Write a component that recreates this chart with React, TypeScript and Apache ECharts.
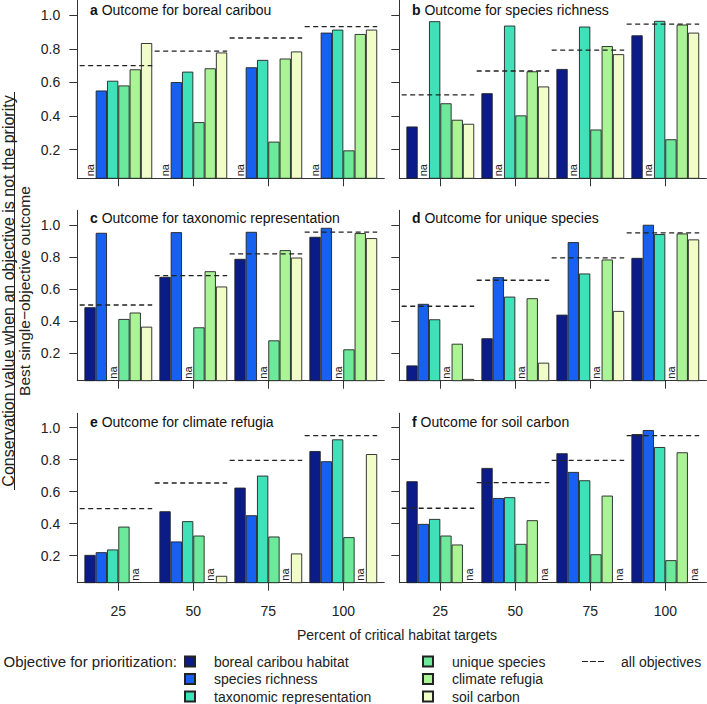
import React, { useEffect, useRef } from 'react';
import * as echarts from 'echarts';

// ---------- data ----------
const OBJECTIVES = [
  'boreal caribou habitat',
  'species richness',
  'taxonomic representation',
  'unique species',
  'climate refugia',
  'soil carbon',
];
const TARGETS = ['25', '50', '75', '100'];
const Y_TICKS = [0.2, 0.4, 0.6, 0.8, 1.0];

const PANEL_LETTERS = ['a', 'b', 'c', 'd', 'e', 'f'];
const PANEL_TITLES = [
  'Outcome for boreal caribou',
  'Outcome for species richness',
  'Outcome for taxonomic representation',
  'Outcome for unique species',
  'Outcome for climate refugia',
  'Outcome for soil carbon',
];

// rows = objective used for prioritization, columns = target (25, 50, 75, 100); null = na
const caribouOutcome = [
  [null, null, null, null],
  [0.552, 0.602, 0.69, 0.896],
  [0.61, 0.664, 0.734, 0.914],
  [0.582, 0.364, 0.248, 0.196],
  [0.678, 0.684, 0.742, 0.888],
  [0.834, 0.778, 0.784, 0.914],
];
const caribouAll = [0.7, 0.786, 0.864, 0.932];

const richnessOutcome = [
  [0.338, 0.536, 0.68, 0.88],
  [null, null, null, null],
  [0.964, 0.938, 0.932, 0.966],
  [0.476, 0.404, 0.32, 0.262],
  [0.378, 0.666, 0.816, 0.944],
  [0.354, 0.576, 0.768, 0.896],
];
const richnessAll = [0.526, 0.668, 0.792, 0.946];

const taxonomicOutcome = [
  [0.487, 0.676, 0.788, 0.925],
  [0.95, 0.954, 0.956, 0.981],
  [null, null, null, null],
  [0.414, 0.362, 0.281, 0.225],
  [0.454, 0.711, 0.842, 0.948],
  [0.366, 0.616, 0.796, 0.917],
];
const taxonomicAll = [0.501, 0.684, 0.819, 0.954];

const uniqueOutcome = [
  [0.125, 0.294, 0.441, 0.794],
  [0.508, 0.674, 0.892, 1.0],
  [0.412, 0.553, 0.697, 0.942],
  [null, null, null, null],
  [0.26, 0.543, 0.784, 0.946],
  [0.041, 0.142, 0.464, 0.909],
];
const uniqueAll = [0.493, 0.655, 0.794, 0.95];

const climateOutcome = [
  [0.204, 0.477, 0.625, 0.854],
  [0.221, 0.288, 0.452, 0.79],
  [0.238, 0.415, 0.7, 0.927],
  [0.381, 0.325, 0.319, 0.315],
  [null, null, null, null],
  [0.02, 0.073, 0.213, 0.835],
];
const climateAll = [0.494, 0.654, 0.796, 0.95];

const soilOutcome = [
  [0.665, 0.748, 0.84, 0.96],
  [0.398, 0.56, 0.723, 0.985],
  [0.429, 0.565, 0.671, 0.879],
  [0.325, 0.273, 0.208, 0.171],
  [0.269, 0.421, 0.575, 0.846],
  [null, null, null, null],
];
const soilAll = [0.496, 0.656, 0.796, 0.95];

const PANEL_VALUES = [caribouOutcome, richnessOutcome, taxonomicOutcome, uniqueOutcome, climateOutcome, soilOutcome];
const PANEL_ALL = [caribouAll, richnessAll, taxonomicAll, uniqueAll, climateAll, soilAll];

// ---------- styling ----------
const COLORS = ['#0B1C88', '#1761F0', '#3FE2B8', '#6DE99B', '#AAF396', '#F0FDC9'];
const FONT = "'Liberation Sans', Arial, Helvetica, sans-serif";
const INK = '#222';
const Y_MIN = 0.03;
const Y_MAX = 1.09;
const X_MIN = 0.4533;
const X_MAX = 4.5467;
const BAR_W = 11.3;
const DASH_FROM = -0.515;
const DASH_TO = 0.452;

const COL_LEFT = [77.3, 399.3];
const PANEL_W = 307;
const ROWS = [
  { top: 0, height: 178.3, titleTop: 3 },
  { top: 210.3, height: 170.4, titleTop: 211 },
  { top: 413.3, height: 169.4, titleTop: 414.5 },
];
const TITLE_LEFT = [90, 412];

function buildOption() {
  const grids: any[] = [];
  const xAxes: any[] = [];
  const yAxes: any[] = [];
  const titles: any[] = [];
  const series: any[] = [];

  for (let p = 0; p < 6; p++) {
    const col = p % 2;
    const row = Math.floor(p / 2);
    const bottomRow = row === 2;
    grids.push({
      left: COL_LEFT[col],
      top: ROWS[row].top,
      width: PANEL_W,
      height: ROWS[row].height,
      containLabel: false,
      outerBoundsMode: 'none',
    });
    xAxes.push({
      type: 'value',
      gridIndex: p,
      min: X_MIN,
      max: X_MAX,
      splitLine: { show: false },
      axisLine: { show: true, onZero: false, lineStyle: { color: '#333', width: 1 } },
      axisTick: {
        show: true,
        length: 8,
        customValues: TARGETS.map((_, i) => i + 1),
        lineStyle: { color: '#333', width: 1 },
      },
      axisLabel: {
        show: bottomRow,
        customValues: TARGETS.map((_, i) => i + 1),
        formatter: (v: number) => TARGETS[Math.round(v) - 1] ?? '',
        margin: 21,
        fontSize: 14,
        color: INK,
        fontFamily: FONT,
      },
    });
    yAxes.push({
      type: 'value',
      gridIndex: p,
      min: Y_MIN,
      max: Y_MAX,
      splitLine: { show: false },
      axisLine: { show: true, onZero: false, lineStyle: { color: '#333', width: 1 } },
      axisTick: { show: true, length: 8, customValues: Y_TICKS, lineStyle: { color: '#333', width: 1 } },
      axisLabel: {
        show: col === 0,
        customValues: Y_TICKS,
        formatter: (v: number) => v.toFixed(1),
        margin: 17,
        fontSize: 14,
        color: INK,
        fontFamily: FONT,
      },
    });
    titles.push({
      text: '{b|' + PANEL_LETTERS[p] + '}{n| ' + PANEL_TITLES[p] + '}',
      left: TITLE_LEFT[col],
      top: ROWS[row].titleTop,
      padding: 0,
      textStyle: {
        fontSize: 14,
        fontWeight: 'normal',
        color: '#111',
        fontFamily: FONT,
        rich: {
          b: { fontWeight: 'bold', fontSize: 14, color: '#111', fontFamily: FONT },
          n: { fontWeight: 'normal', fontSize: 14, color: '#111', fontFamily: FONT },
        },
      },
    });

    const values = PANEL_VALUES[p];
    OBJECTIVES.forEach((name, j) => {
      series.push({
        type: 'bar',
        name,
        xAxisIndex: p,
        yAxisIndex: p,
        barWidth: BAR_W,
        barGap: '0%',
        itemStyle: { color: COLORS[j], borderColor: INK, borderWidth: 0.9 },
        emphasis: { disabled: true },
        z: 2,
        data: values[j].map((v, i) =>
          v == null
            ? {
                value: [i + 1, Y_MIN + 0.12],
                itemStyle: { color: 'rgba(0,0,0,0)', borderWidth: 0 },
                label: {
                  show: true,
                  formatter: 'na',
                  position: 'insideBottom',
                  rotate: 90,
                  align: 'left',
                  verticalAlign: 'middle',
                  distance: 2,
                  fontSize: 11,
                  color: INK,
                  fontFamily: FONT,
                },
              }
            : [i + 1, v]
        ),
      });
    });

    const allVals = PANEL_ALL[p];
    const dashData: any[] = [];
    allVals.forEach((v, i) => {
      dashData.push([i + 1 + DASH_FROM, v]);
      dashData.push([i + 1 + DASH_TO, v]);
      dashData.push([i + 1 + DASH_TO, null]);
    });
    series.push({
      type: 'line',
      name: 'all objectives',
      xAxisIndex: p,
      yAxisIndex: p,
      data: dashData,
      symbol: 'none',
      connectNulls: false,
      silent: true,
      z: 5,
      itemStyle: { color: INK },
      lineStyle: { color: INK, width: 1.3, type: [5, 3.5] },
    });
  }

  const legendBase = {
    orient: 'vertical',
    top: 654.5,
    padding: 0,
    itemWidth: 10,
    itemHeight: 10,
    itemGap: 3.5,
    selectedMode: false,
    textStyle: { fontSize: 14, color: INK, fontFamily: FONT, padding: [0, 0, 0, 14] },
  };

  return {
    animation: false,
    textStyle: { fontFamily: FONT },
    title: titles,
    grid: grids,
    xAxis: xAxes,
    yAxis: yAxes,
    series,
    legend: [
      { ...legendBase, left: 184, data: OBJECTIVES.slice(0, 3).map((n) => ({ name: n, icon: 'rect' })) },
      { ...legendBase, left: 422, data: OBJECTIVES.slice(3, 6).map((n) => ({ name: n, icon: 'rect' })) },
      {
        ...legendBase,
        left: 582,
        itemWidth: 22,
        itemHeight: 1.4,
        textStyle: { ...legendBase.textStyle, padding: [0, 0, 0, 12] },
        data: [{ name: 'all objectives', icon: 'path://M0,0H6V1H0Z M8,0H14V1H8Z M16,0H22V1H16Z' }],
      },
    ],
    graphic: [
      {
        type: 'text',
        x: 8,
        y: 291,
        rotation: Math.PI / 2,
        style: {
          text: 'Conservation value when an objective is not the priority',
          font: '16px ' + FONT,
          fill: INK,
          textAlign: 'center',
          textVerticalAlign: 'middle',
        },
      },
      {
        type: 'line',
        shape: { x1: 14.5, y1: 92, x2: 14.5, y2: 490 },
        style: { stroke: INK, lineWidth: 1 },
      },
      {
        type: 'text',
        x: 24.5,
        y: 291,
        rotation: Math.PI / 2,
        style: {
          text: 'Best single\u2212objective outcome',
          font: '15.5px ' + FONT,
          fill: INK,
          textAlign: 'center',
          textVerticalAlign: 'middle',
        },
      },
      {
        type: 'text',
        x: 397,
        y: 635,
        style: {
          text: 'Percent of critical habitat targets',
          font: '14px ' + FONT,
          fill: INK,
          textAlign: 'center',
          textVerticalAlign: 'middle',
        },
      },
      {
        type: 'text',
        x: 3.5,
        y: 661.7,
        style: {
          text: 'Objective for prioritization:',
          font: '15px ' + FONT,
          fill: INK,
          textAlign: 'left',
          textVerticalAlign: 'middle',
        },
      },
    ],
  };
}

export default function App() {
  const ref = useRef<HTMLDivElement>(null);
  useEffect(() => {
    const chart = echarts.init(ref.current as HTMLDivElement, null, { renderer: 'svg' });
    chart.setOption(buildOption() as any);
    return () => chart.dispose();
  }, []);
  return <div ref={ref} style={{ position: 'absolute', left: 0, top: 0, width: 707, height: 704 }} />;
}
